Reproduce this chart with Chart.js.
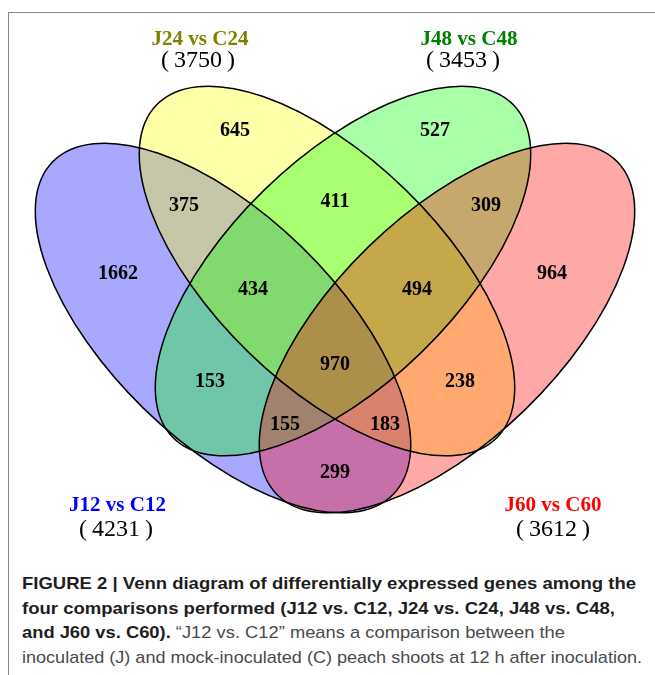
<!DOCTYPE html>
<html>
<head>
<meta charset="utf-8">
<script src="https://cdn.jsdelivr.net/npm/chart.js@4/dist/chart.umd.min.js"></script>
<style>
  html, body { margin: 0; padding: 0; background: #fff; }
  body { width: 655px; height: 675px; position: relative; overflow: hidden; }
  #frame { position: absolute; left: 8px; top: 12px; right: 0; bottom: 0; border-left: 1px solid #888; border-top: 1px solid #888; }
  #venn { position: absolute; left: 0; top: 0; }
  #caption { position: absolute; left: 22px; top: 572px; font-family: "Liberation Sans", Arial, sans-serif; font-size: 17px; line-height: 24.5px; color: #4a4a4a; white-space: nowrap; }
  #caption b { color: #1e1e1e; }
  #caption span { display: inline-block; transform-origin: 0 0; }
</style>
</head>
<body>
<div id="frame"></div>
<canvas id="venn" width="655" height="560"></canvas>
<div id="caption">
  <div><span><b>FIGURE 2 | Venn diagram of differentially expressed genes among the</b></span></div>
  <div><span><b>four comparisons performed (J12 vs. C12, J24 vs. C24, J48 vs. C48,</b></span></div>
  <div><span><b>and J60 vs. C60).</b> “J12 vs. C12” means a comparison between the</span></div>
  <div><span>inoculated (J) and mock-inoculated (C) peach shoots at 12 h after inoculation.</span></div>
</div>
<script>
// the four comparisons (A = J12, B = J24, C = J48, D = J60)
const setKeys = ['A', 'B', 'C', 'D'];
const setNames = ['J12 vs C12', 'J24 vs C24', 'J48 vs C48', 'J60 vs C60'];
const setTotals = [4231, 3750, 3453, 3612];

// gene counts per region, key = the sets the region belongs to
const regionKeys = ['A', 'B', 'C', 'D', 'AB', 'BC', 'CD', 'ABC', 'BCD', 'ABCD', 'AC', 'BD', 'ACD', 'ABD', 'AD'];
const regionCounts = [1662, 645, 527, 964, 375, 411, 309, 434, 494, 970, 153, 238, 155, 183, 299];

// layout, in venn units (y up, 0,0 = centre of the figure)
const ellipseAxes = { a: 2.38, b: 1.13 };
const ellipseLayout = {
  A: { c: [-1.12, -0.28], tilt: -44.3 },
  B: { c: [-0.08, 0.29], tilt: -44.3 },
  C: { c: [0.08, 0.29], tilt: 44.3 },
  D: { c: [1.12, -0.28], tilt: 44.3 }
};
const regionAnchor = {
  A: [-2.17, 0.29], B: [-1.0, 1.72], C: [1.0, 1.72], D: [2.17, 0.29],
  AB: [-1.51, 0.97], BC: [0, 1.01], CD: [1.51, 0.97],
  ABC: [-0.82, 0.13], BCD: [0.82, 0.13], ABCD: [0, -0.62],
  AC: [-1.25, -0.79], BD: [1.25, -0.79],
  ACD: [-0.5, -1.22], ABD: [0.5, -1.22], AD: [0, -1.7]
};
const nameAnchor = { A: [-2.175, -2.03], B: [-1.35, 2.63], C: [1.34, 2.63], D: [2.18, -2.03] };
const totalAnchor = { A: [-2.19, -2.275], B: [-1.37, 2.42], C: [1.28, 2.42], D: [2.18, -2.275] };

const fillRgb = { A: '0,0,255', B: '255,255,0', C: '0,255,0', D: '255,0,0' };
const nameColor = { A: '#0000ff', B: '#808000', C: '#008000', D: '#ff0000' };
const totalFont = '24px "Liberation Serif", "Times New Roman", serif';

const vennPlugin = {
  id: 'venn',
  beforeDatasetsDraw(chart) {
    const { ctx, scales: { x, y } } = chart;
    const sx = x.getPixelForValue(1) - x.getPixelForValue(0);
    const sy = y.getPixelForValue(1) - y.getPixelForValue(0);
    const path = (k) => {
      const e = ellipseLayout[k];
      ctx.save();
      ctx.translate(x.getPixelForValue(e.c[0]), y.getPixelForValue(e.c[1]));
      ctx.scale(sx, sy);
      ctx.rotate(e.tilt * Math.PI / 180);
      ctx.beginPath();
      ctx.ellipse(0, 0, ellipseAxes.a, ellipseAxes.b, 0, 0, Math.PI * 2);
      ctx.restore();
    };
    ctx.save();
    setKeys.forEach(k => {
      path(k);
      ctx.fillStyle = 'rgba(' + fillRgb[k] + ',0.34)';
      ctx.fill();
    });
    ctx.lineWidth = 1.5;
    ctx.strokeStyle = '#000';
    setKeys.forEach(k => { path(k); ctx.stroke(); });
    ctx.restore();
  },
  afterDatasetsDraw(chart) {
    const ctx = chart.ctx;
    ctx.save();
    ctx.textAlign = 'left';
    ctx.textBaseline = 'middle';
    chart.data.datasets.forEach((ds, i) => {
      const meta = chart.getDatasetMeta(i);
      meta.data.forEach((pt, j) => {
        // a text is a list of runs ([string, font] or a gap in px), centred on the point
        const runs = typeof ds.texts[j] === 'string' ? [[ds.texts[j], ds.textFont]] : ds.texts[j];
        const runW = r => { if (typeof r === 'number') return r; ctx.font = r[1]; return ctx.measureText(r[0]).width; };
        let w = 0;
        runs.forEach(r => { w += runW(r); });
        let px = pt.x - w / 2;
        ctx.fillStyle = ds.textColors ? ds.textColors[j] : '#000';
        runs.forEach(r => {
          if (typeof r !== 'number') {
            ctx.font = r[1];
            ctx.fillText(r[0], px, pt.y + 2.5);
          }
          px += runW(r);
        });
      });
    });
    ctx.restore();
  }
};

new Chart(document.getElementById('venn'), {
  type: 'scatter',
  data: {
    datasets: [
      {
        label: 'regions',
        data: regionKeys.map(k => ({ x: regionAnchor[k][0], y: regionAnchor[k][1] })),
        texts: regionCounts.map(String),
        textFont: 'bold 20px "Liberation Serif", "Times New Roman", serif',
        pointRadius: 0
      },
      {
        label: 'names',
        data: setKeys.map(k => ({ x: nameAnchor[k][0], y: nameAnchor[k][1] })),
        texts: setNames,
        textColors: setKeys.map(k => nameColor[k]),
        textFont: 'bold 21px "Liberation Serif", "Times New Roman", serif',
        pointRadius: 0
      },
      {
        label: 'totals',
        data: setKeys.map(k => ({ x: totalAnchor[k][0], y: totalAnchor[k][1] })),
        texts: setTotals.map(v => [['(', totalFont], 5, [String(v), totalFont], 5, [')', totalFont]]),
        pointRadius: 0
      }
    ]
  },
  options: {
    responsive: false,
    animation: false,
    devicePixelRatio: 1,
    events: [],
    layout: { padding: 0 },
    plugins: { legend: { display: false }, tooltip: { enabled: false } },
    scales: {
      x: { type: 'linear', min: -3.35, max: 3.2, display: false },
      y: { type: 'linear', min: -2.6, max: 3.0, display: false }
    }
  },
  plugins: [vennPlugin]
});

// caption font is narrower than Liberation Sans: squeeze each line to its original length
const lineEnds = [614, 593, 543, 620];
document.querySelectorAll('#caption span').forEach((s, i) => {
  s.style.transform = 'scaleX(' + (lineEnds[i] / s.getBoundingClientRect().width) + ')';
});
</script>
</body>
</html>
